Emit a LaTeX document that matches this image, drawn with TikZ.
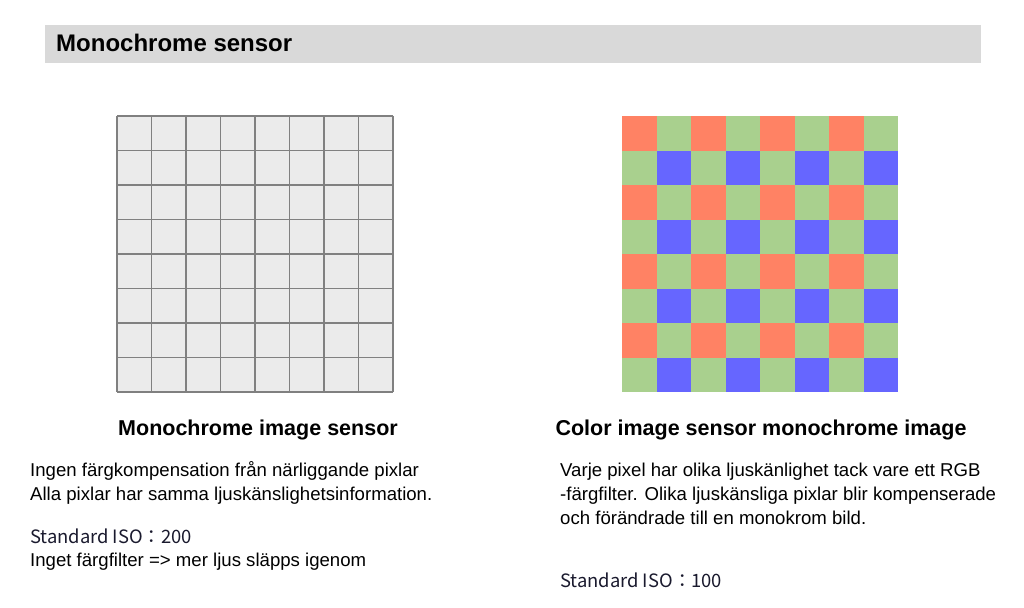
\documentclass[tikz,border=0pt]{standalone}
\usepackage{fontspec}
\setmainfont{Liberation Sans}
\newfontfamily\isofont{Noto Sans CJK JP}
\usetikzlibrary{positioning}

\begin{document}
\begin{tikzpicture}[x=1pt,y=-1pt]
  % Local definitions
  \def\cell{34.5}

  % Colors
  \definecolor{headcolor}{HTML}{D9D9D9}
  \definecolor{monocolor}{HTML}{EBEBEB}
  \definecolor{linecolor}{HTML}{808080}
  \definecolor{redpix}{HTML}{FF8264}
  \definecolor{greenpix}{HTML}{A9D08E}
  \definecolor{bluepix}{HTML}{6666FF}
  \definecolor{isocolor}{HTML}{1A1A2E}

  % Styles
  \tikzstyle{heading}=[font=\fontsize{24}{28}\selectfont\bfseries,anchor=base west,inner sep=0pt]
  \tikzstyle{caption}=[font=\fontsize{21.5}{26}\selectfont\bfseries,anchor=base,inner sep=0pt]
  \tikzstyle{body text}=[font=\fontsize{18.6}{24}\selectfont,anchor=base west,inner sep=0pt,align=left]
  \tikzstyle{iso text}=[font=\isofont\fontsize{18.4}{24}\selectfont,anchor=base west,inner sep=0pt,text=isocolor]

  \useasboundingbox[fill=white] (0,0) rectangle (1024,607);

  % The header
  \fill[headcolor] (45,25) rectangle (981,63);
  \node[heading] (head) at (56,52) {Monochrome sensor};

  % Monochrome sensor
  \fill[monocolor] (117,116) rectangle +(8*\cell,8*\cell);
  \foreach \i in {0,...,8}
  {
    \draw[linecolor,line width=1.3pt] (117+\i*\cell,116) -- +(0,8*\cell);
    \draw[linecolor,line width=1.3pt] (117,116+\i*\cell) -- +(8*\cell,0);
  }

  % Color sensor
  \foreach \r in {0,2,4,6}
    \foreach \c in {0,2,4,6}
    {
      \fill[redpix] (622+\c*\cell,116+\r*\cell) rectangle +(\cell,\cell);
      \fill[greenpix] (622+\c*\cell+\cell,116+\r*\cell) rectangle +(\cell,\cell);
      \fill[greenpix] (622+\c*\cell,116+\r*\cell+\cell) rectangle +(\cell,\cell);
      \fill[bluepix] (622+\c*\cell+\cell,116+\r*\cell+\cell) rectangle +(\cell,\cell);
    }

  % Captions
  \node[caption] (monocap) at (258,435) {Monochrome image sensor};
  \node[caption] (colorcap) at (761,435) {Color image sensor monochrome image};

  % Left text
  \node[body text] (monotext) at (30,500)
    {Ingen färgkompensation från närliggande pixlar\\
     Alla pixlar har samma ljuskänslighetsinformation.};
  \node[iso text] (monoiso) at (30,543) {Standard ISO：200};
  \node[body text] (monofilter) at (30,566) {Inget färgfilter => mer ljus släpps igenom};

  % Right text
  \node[body text] (colortext) at (560,524)
    {Varje pixel har olika ljuskänlighet tack vare ett RGB\\
     -färgfilter. Olika ljuskänsliga pixlar blir kompenserade\\
     och förändrade till en monokrom bild.};
  \node[iso text] (coloriso) at (560,587) {Standard ISO：100};
\end{tikzpicture}
\end{document}
